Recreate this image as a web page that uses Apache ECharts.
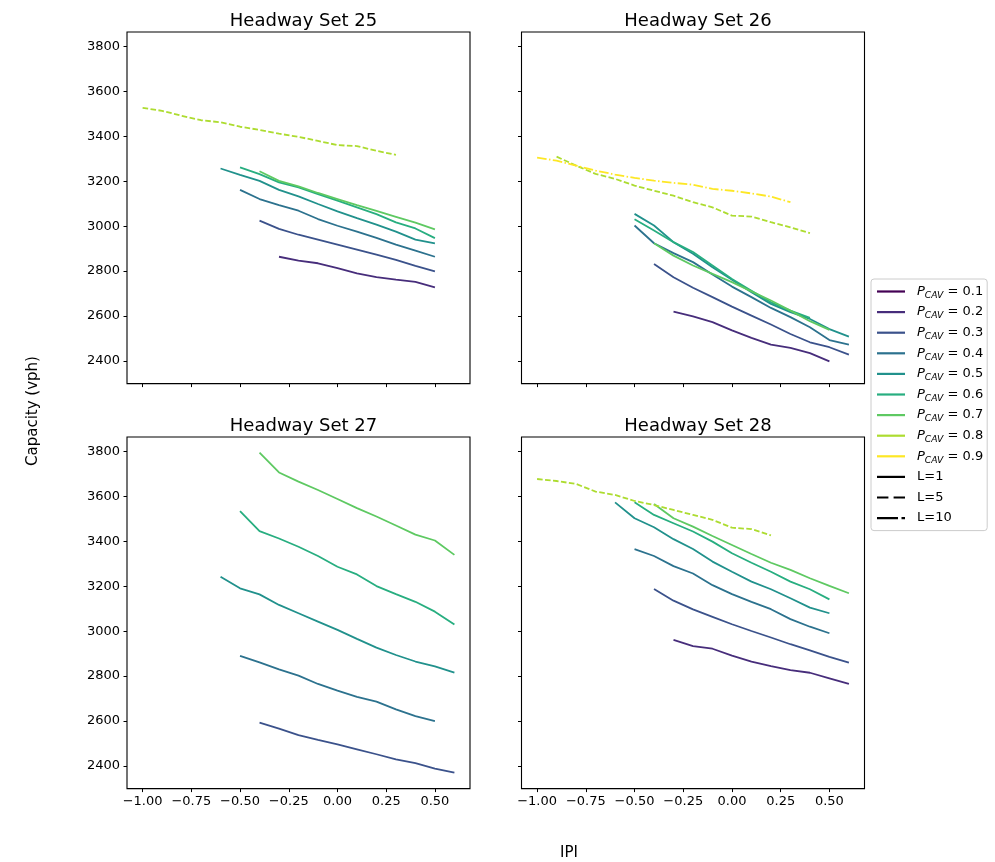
<!DOCTYPE html>
<html>
<head>
<meta charset="utf-8">
<script src="https://cdn.jsdelivr.net/npm/echarts@6/dist/echarts.min.js"></script>
<style>
  html, body { margin: 0; padding: 0; background: #fff; }
  #chart { width: 995px; height: 862px; }
</style>
</head>
<body>
<div id="chart"></div>
<script>
var _ = null;
// IPI values (x)
var ipi = [-1.0, -0.9, -0.8, -0.7, -0.6, -0.5, -0.4, -0.3, -0.2, -0.1, 0.0, 0.1, 0.2, 0.3, 0.4, 0.5, 0.6];
var xTicks = [-1.0, -0.75, -0.5, -0.25, 0.0, 0.25, 0.5];
var yTicks = [2400, 2600, 2800, 3000, 3200, 3400, 3600, 3800];
var titles = ['Headway Set 25', 'Headway Set 26', 'Headway Set 27', 'Headway Set 28'];

// Headway Set 25
var hs25_p02 = [_,_,_,_,_,_,_, 2864,2847,2835,2813,2790,2773,2762,2752,2728, _];
var hs25_p03 = [_,_,_,_,_,_, 3025,2988,2962,2940,2918,2896,2873,2850,2823,2799, _];
var hs25_p04 = [_,_,_,_,_, 3162,3121,3094,3069,3032,3002,2976,2948,2918,2891,2864, _];
var hs25_p05 = [_,_,_,_, 3257,3229,3202,3162,3133,3099,3066,3036,3007,2976,2940,2924, _];
var hs25_p06 = [_,_,_,_,_, 3262,3232,3195,3173,3143,3114,3084,3054,3017,2990,2947, _];
var hs25_p07 = [_,_,_,_,_,_, 3245,3202,3177,3148,3121,3094,3068,3042,3016,2986, _];
var hs25_p08_L5 = [3527,3514,3492,3472,3463,3443,3429,3412,3398,3380,3361,3357,3336,3318, _,_,_];

// Headway Set 26
var hs26_p02 = [_,_,_,_,_,_,_, 2620,2598,2573,2536,2503,2473,2458,2435,2398, _];
var hs26_p03 = [_,_,_,_,_,_, 2832,2773,2726,2684,2642,2602,2562,2520,2483,2461,2428];
var hs26_p04 = [_,_,_,_,_, 3003,2924,2880,2840,2785,2731,2684,2636,2595,2550,2493,2473];
var hs26_p05 = [_,_,_,_,_, 3055,3003,2929,2877,2817,2762,2706,2654,2617,2587,2542,2508];
var hs26_p06 = [_,_,_,_,_, 3031,2981,2929,2885,2825,2765,2713,2661,2624,2592, _,_];
var hs26_p07 = [_,_,_,_,_,_, 2924,2869,2825,2788,2751,2710,2669,2624,2577,2538, _];
var hs26_p08_L5 = [_, 3310,3270,3233,3211,3181,3158,3136,3107,3084,3047,3043,3018,2995,2969, _,_];
var hs26_p09_L10 = [3305,3292,3270,3248,3230,3215,3203,3193,3185,3166,3158,3146,3132,3107, _,_,_];

// Headway Set 27
var hs27_p03 = [_,_,_,_,_,_, 2593,2566,2537,2516,2496,2474,2452,2429,2412,2388,2370];
var hs27_p04 = [_,_,_,_,_, 2890,2861,2830,2802,2765,2735,2708,2686,2652,2622,2600, _];
var hs27_p05 = [_,_,_,_, 3243,3191,3164,3117,3080,3043,3006,2966,2927,2894,2865,2843,2816];
var hs27_p06 = [_,_,_,_,_, 3535,3446,3413,3376,3335,3287,3253,3201,3165,3131,3087,3030];
var hs27_p07 = [_,_,_,_,_,_, 3795,3707,3666,3629,3589,3548,3511,3471,3430,3404,3340];

// Headway Set 28
var hs28_p02 = [_,_,_,_,_,_,_, 2961,2934,2922,2891,2865,2845,2827,2815,2790,2765];
var hs28_p03 = [_,_,_,_,_,_, 3188,3136,3097,3064,3031,3001,2972,2942,2915,2886,2860];
var hs28_p04 = [_,_,_,_,_, 3366,3335,3290,3257,3205,3165,3131,3098,3054,3020,2991, _];
var hs28_p05 = [_,_,_,_, 3574,3503,3463,3410,3366,3310,3265,3221,3187,3147,3105,3080, _];
var hs28_p06 = [_,_,_,_,_, 3574,3518,3481,3444,3399,3347,3305,3265,3221,3187,3142, _];
var hs28_p07 = [_,_,_,_,_,_, 3567,3503,3466,3424,3384,3344,3305,3273,3236,3202,3169];
var hs28_p08_L5 = [3678,3669,3656,3622,3607,3580,3562,3540,3518,3496,3461,3455,3427, _,_,_,_];

// viridis colours for P_CAV 0.1 .. 0.9
var colors = {p1:'#440154', p2:'#472d7b', p3:'#3b528b', p4:'#2c728e', p5:'#21918c',
              p6:'#28ae80', p7:'#5ec962', p8:'#addc30', p9:'#fde725'};
var dashes = {L1:'solid', L5:[5.6, 2.4], L10:[9.6, 2.4, 1.5, 2.4]};

var font = 'DejaVu Sans';

function line(panel, key, vals, L) {
    var data = [];
    for (var i = 0; i < ipi.length; i++) {
        if (vals[i] != null) data.push([ipi[i], vals[i]]);
    }
    return {
        type: 'line', name: key, xAxisIndex: panel, yAxisIndex: panel,
        data: data, showSymbol: false, symbol: 'none', silent: true,
        color: colors[key],
        lineStyle: {width: 1.8, color: colors[key], type: dashes[L || 'L1'], cap: 'butt'}
    };
}

var series = [
    line(0,'p2',hs25_p02), line(0,'p3',hs25_p03), line(0,'p4',hs25_p04), line(0,'p5',hs25_p05),
    line(0,'p6',hs25_p06), line(0,'p7',hs25_p07), line(0,'p8',hs25_p08_L5,'L5'),
    line(1,'p2',hs26_p02), line(1,'p3',hs26_p03), line(1,'p4',hs26_p04), line(1,'p5',hs26_p05),
    line(1,'p6',hs26_p06), line(1,'p7',hs26_p07), line(1,'p8',hs26_p08_L5,'L5'), line(1,'p9',hs26_p09_L10,'L10'),
    line(2,'p3',hs27_p03), line(2,'p4',hs27_p04), line(2,'p5',hs27_p05), line(2,'p6',hs27_p06), line(2,'p7',hs27_p07),
    line(3,'p2',hs28_p02), line(3,'p3',hs28_p03), line(3,'p4',hs28_p04), line(3,'p5',hs28_p05),
    line(3,'p6',hs28_p06), line(3,'p7',hs28_p07), line(3,'p8',hs28_p08_L5,'L5')
];
// legend-only entries
series.push({type:'line', name:'p1', data:[], color: colors.p1, xAxisIndex:0, yAxisIndex:0});
['L=1','L=5','L=10'].forEach(function (n) {
    series.push({type:'line', name:n, data:[], color:'#000', xAxisIndex:0, yAxisIndex:0});
});

var grids = [
    {left: 127, top: 32, width: 343, height: 351.6},
    {left: 521.5, top: 32, width: 343, height: 351.6},
    {left: 127, top: 437, width: 343, height: 351.6},
    {left: 521.5, top: 437, width: 343, height: 351.6}
];

var xAxes = [], yAxes = [], titleList = [];
grids.forEach(function (g, i) {
    g.show = true; g.borderColor = '#000'; g.borderWidth = 1.1; g.backgroundColor = 'transparent';
    xAxes.push({
        gridIndex: i, type: 'value', min: -1.08, max: 0.68,
        axisLine: {show: false, onZero: false},
        splitLine: {show: false},
        axisTick: {show: true, length: 3.5, lineStyle: {color: '#000'}, customValues: xTicks},
        axisLabel: {show: i >= 2, customValues: xTicks, color: '#000', fontSize: 13, fontFamily: font, margin: 7,
            formatter: function (v) { return (v < 0 ? '\u2212' : '') + Math.abs(v).toFixed(2); }}
    });
    yAxes.push({
        gridIndex: i, type: 'value', min: 2299, max: 3865,
        axisLine: {show: false, onZero: false},
        splitLine: {show: false},
        axisTick: {show: true, length: 3.5, lineStyle: {color: '#000'}, customValues: yTicks},
        axisLabel: {show: i % 2 === 0, customValues: yTicks, color: '#000', fontSize: 13, fontFamily: font, margin: 7,
            formatter: function (v) { return String(v); }}
    });
    titleList.push({
        text: titles[i], left: g.left + g.width / 2, top: g.top - 25, textAlign: 'center',
        textStyle: {fontSize: 18, fontWeight: 'normal', color: '#000', fontFamily: font}
    });
});

var solidIcon = 'path://M0,0h28v2h-28z';
var legendData = ['p1','p2','p3','p4','p5','p6','p7','p8','p9'].map(function (k) {
    return {name: k, icon: solidIcon};
});
legendData.push({name: 'L=1', icon: solidIcon});
legendData.push({name: 'L=5', icon: 'path://M0,0h11v2h-11zM16,0h11v2h-11z'});
legendData.push({name: 'L=10', icon: 'path://M0,0h18v2h-18zM21,0h3v2h-3z'});

var chart = echarts.init(document.getElementById('chart'));
chart.setOption({
    animation: false,
    backgroundColor: '#fff',
    title: titleList,
    grid: grids,
    xAxis: xAxes,
    yAxis: yAxes,
    legend: {
        data: legendData, orient: 'vertical', left: 871, top: 279,
        itemWidth: 28, itemHeight: 2.2, itemGap: 3.6, symbolKeepAspect: false,
        selectedMode: false,
        padding: [4, 4, 4, 6],
        borderColor: '#cccccc', borderWidth: 1, borderRadius: 3, backgroundColor: '#fff',
        textStyle: {
            fontSize: 13, color: '#000', fontFamily: font, lineHeight: 17, padding: [0, 0, 0, 7],
            rich: {
                i: {fontStyle: 'italic', fontSize: 13, fontFamily: font, lineHeight: 17, color: '#000'},
                s: {fontStyle: 'italic', fontSize: 9.2, fontFamily: font, lineHeight: 9, verticalAlign: 'bottom', color: '#000'},
                n: {fontSize: 13, fontFamily: font, lineHeight: 17, color: '#000'}
            }
        },
        formatter: function (name) {
            if (name.charAt(0) === 'p') return '{i|P}{s|CAV}{n| = 0.' + name.charAt(1) + '}';
            return name;
        }
    },
    graphic: [
        {type: 'text', x: 33, y: 411, rotation: Math.PI / 2,
         style: {text: 'Capacity (vph)', fontSize: 15, fontFamily: font, fill: '#000', align: 'center', verticalAlign: 'middle'}},
        {type: 'text', x: 569, y: 853,
         style: {text: 'IPI', fontSize: 15, fontFamily: font, fill: '#000', align: 'center', verticalAlign: 'middle'}}
    ],
    series: series
});
</script>
</body>
</html>
